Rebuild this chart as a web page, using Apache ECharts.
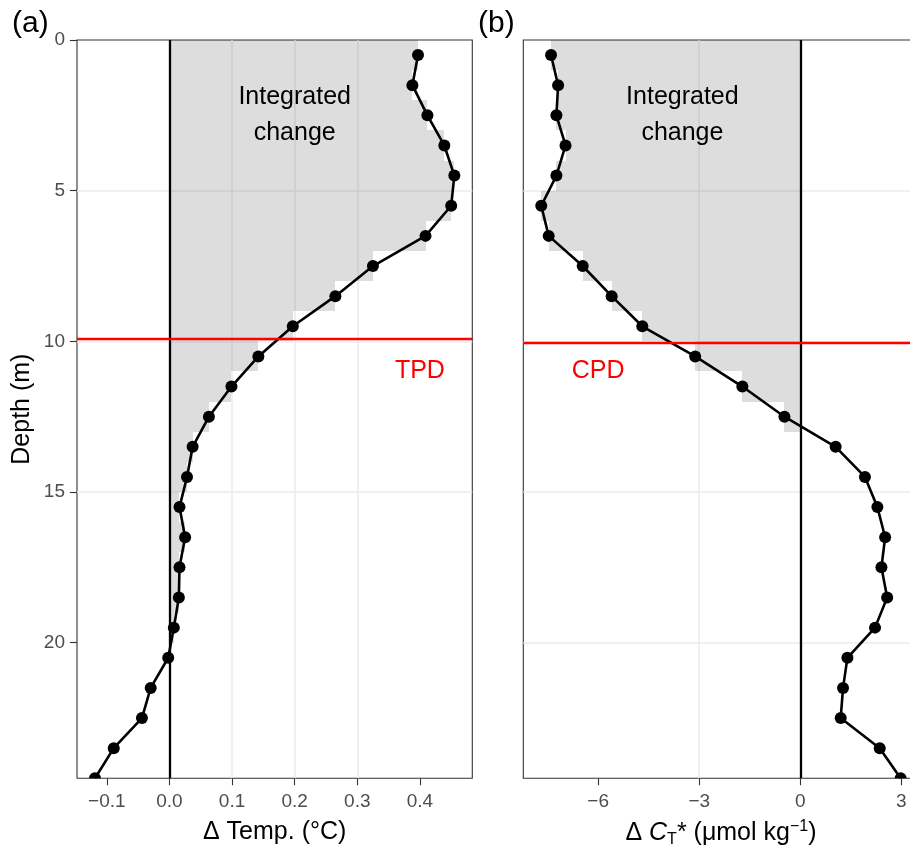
<!DOCTYPE html>
<html><head><meta charset="utf-8">
<script src="https://cdn.jsdelivr.net/npm/echarts@6/dist/echarts.min.js"></script>
<style>html,body{margin:0;padding:0;background:#fff}#c{width:910px;height:848px}</style>
</head><body><div id="c"></div>
<script>
// ---- data ----
const depths = [0.5,1.5,2.5,3.5,4.5,5.5,6.5,7.5,8.5,9.5,10.5,11.5,12.5,13.5,14.5,15.5,16.5,17.5,18.5,19.5,20.5,21.5,22.5,23.5,24.5];
const dTemp  = [0.397,0.388,0.412,0.439,0.455,0.450,0.409,0.325,0.265,0.197,0.142,0.099,0.063,0.037,0.028,0.016,0.025,0.016,0.015,0.007,-0.002,-0.030,-0.044,-0.089,-0.119];
const dCT    = [-7.40,-7.19,-7.24,-6.97,-7.24,-7.69,-7.47,-6.46,-5.60,-4.69,-3.12,-1.72,-0.47,1.05,1.92,2.29,2.52,2.41,2.58,2.22,1.40,1.27,1.20,2.36,2.98];
const tpdDepth = 9.92;
const cpdDepth = 10.05;
const depthTicks = [0,5,10,15,20];
const tempTicks = [-0.1,0.0,0.1,0.2,0.3,0.4];
const ctTicks = [-6,-3,0,3];

const FONT = '"Liberation Sans", Arial, Helvetica, sans-serif';
const chart = echarts.init(document.getElementById('c'), null, {renderer:'canvas'});

function ext(vals){ const mn=Math.min(...vals), mx=Math.max(...vals), s=mx-mn; return [mn-0.05*s, mx+0.05*s]; }
const tExt = ext(dTemp), cExt = ext(dCT);
const minus = s => String(s).replace('-', '\u2212');

function barSeries(idx, vals, keep){
  return {
    type:'custom', xAxisIndex:idx, yAxisIndex:idx, clip:true, z:1, silent:true,
    data: depths.map((d,i)=>[vals[i], d]).filter(p=>keep(p[0])),
    renderItem:(params, api)=>{
      const v=api.value(0), d=api.value(1);
      const a=api.coord([0, d-0.5]), b=api.coord([v, d+0.5]);
      const x0=Math.round(Math.min(a[0],b[0])), x1=Math.round(Math.max(a[0],b[0]));
      const y0=Math.round(Math.min(a[1],b[1])), y1=Math.round(Math.max(a[1],b[1]));
      return {type:'rect', shape:{x:x0,y:y0,width:x1-x0,height:y1-y0}, style:{fill:'rgba(0,0,0,0.135)'}};
    }
  };
}
function lineSeries(idx, vals, refDepth){
  return {
    type:'line', xAxisIndex:idx, yAxisIndex:idx, z:3, silent:true, showSymbol:false, clip:true,
    data: depths.map((d,i)=>[vals[i], d]),
    lineStyle:{color:'#000', width:2.6},
    markLine:{
      silent:true, symbol:['none','none'], label:{show:false}, animation:false,
      data:[
        {xAxis:0, lineStyle:{color:'#000', width:2.3, type:'solid'}},
        {yAxis:refDepth, lineStyle:{color:'#FF0000', width:2.4, type:'solid'}}
      ]
    }
  };
}
function pointSeries(idx, vals){
  return {
    type:'custom', xAxisIndex:idx, yAxisIndex:idx, clip:true, z:4, silent:true,
    data: depths.map((d,i)=>[vals[i], d]),
    renderItem:(params, api)=>{
      const p=api.coord([api.value(0), api.value(1)]);
      return {type:'circle', shape:{cx:p[0], cy:p[1], r:6}, style:{fill:'#000'}};
    }
  };
}
function annSeries(idx, anns){
  return {
    type:'custom', xAxisIndex:idx, yAxisIndex:idx, clip:false, z:5, silent:true,
    data: anns.map(a=>[a.x, a.y]),
    renderItem:(params, api)=>{
      const a=anns[params.dataIndex];
      const p=api.coord([api.value(0), api.value(1)]);
      return {type:'text', x:p[0], y:p[1], style:{text:a.text, fill:a.color, fontSize:25, fontFamily:FONT,
        align:'center', verticalAlign:'middle', textAlign:'center', textVerticalAlign:'middle', lineHeight:36}};
    }
  };
}

const tickStyle = {show:true, length:7, lineStyle:{color:'#333', width:1.1}};
const labelStyle = {color:'#4D4D4D', fontSize:19, fontFamily:FONT, margin:12};
const xLabelStyle = Object.assign({}, labelStyle, {margin:14});
const splitStyle = {show:true, showMinLine:false, showMaxLine:false, lineStyle:{color:'#EBEBEB', width:1.5}};

const option = {
  animation:false,
  backgroundColor:'#fff',
  graphic:[
    {type:'text', left:12, top:9, style:{text:'(a)', fontSize:30, fontFamily:FONT, fill:'#000'}},
    {type:'text', left:478, top:9, style:{text:'(b)', fontSize:30, fontFamily:FONT, fill:'#000'}}
  ],
  grid:[
    {left:77, top:40, width:395.3, height:738.3, show:true, borderColor:'#333', borderWidth:1.1, backgroundColor:'transparent', outerBoundsMode:'none', containLabel:false},
    {left:523.3, top:40, width:395.3, height:738.3, show:true, borderColor:'#333', borderWidth:1.1, backgroundColor:'transparent', outerBoundsMode:'none', containLabel:false}
  ],
  xAxis:[
    {gridIndex:0, type:'value', position:'bottom', min:tExt[0], max:tExt[1], splitNumber:6, minInterval:0.1, maxInterval:0.1,
     axisLine:{show:false, onZero:false},
     axisTick:Object.assign({customValues:tempTicks}, tickStyle),
     axisLabel:Object.assign({customValues:tempTicks, formatter:v=>minus(v.toFixed(1))}, xLabelStyle),
     splitLine:splitStyle,
     name:'Δ Temp. (°C)', nameLocation:'middle', nameGap:41,
     nameTextStyle:{fontSize:25, fontFamily:FONT, color:'#000'}},
    {gridIndex:1, type:'value', position:'bottom', min:cExt[0], max:cExt[1], splitNumber:4, minInterval:3, maxInterval:3,
     axisLine:{show:false, onZero:false},
     axisTick:Object.assign({customValues:ctTicks}, tickStyle),
     axisLabel:Object.assign({customValues:ctTicks, formatter:v=>minus(v)}, xLabelStyle),
     splitLine:splitStyle,
     name:'{n|Δ }{i|C}{s|T}{n|* (μmol kg}{p|−1}{n|)}', nameLocation:'middle', nameGap:40,
     nameTextStyle:{fontSize:25, fontFamily:FONT, color:'#000',
       rich:{
         n:{fontSize:25, fontFamily:FONT, color:'#000'},
         i:{fontSize:25, fontFamily:FONT, color:'#000', fontStyle:'italic'},
         s:{fontSize:16, fontFamily:FONT, color:'#000', padding:[13,0,0,0]},
         p:{fontSize:16, fontFamily:FONT, color:'#000', padding:[0,0,14,0]}
       }}}
  ],
  yAxis:[
    {gridIndex:0, type:'value', inverse:true, min:0, max:24.5, interval:5,
     axisLine:{show:false, onZero:false},
     axisTick:Object.assign({customValues:depthTicks}, tickStyle),
     axisLabel:Object.assign({customValues:depthTicks}, labelStyle),
     splitLine:splitStyle,
     name:'Depth (m)', nameLocation:'middle', nameGap:42,
     nameTextStyle:{fontSize:25, fontFamily:FONT, color:'#000'}},
    {gridIndex:1, type:'value', inverse:true, min:0, max:24.5, interval:5,
     axisLine:{show:false, onZero:false},
     axisTick:{show:false}, axisLabel:{show:false},
     splitLine:splitStyle}
  ],
  series:[
    barSeries(0, dTemp, v=>v>0),
    lineSeries(0, dTemp, tpdDepth),
    pointSeries(0, dTemp),
    annSeries(0, [{x:0.2, y:2.5, text:'Integrated\nchange', color:'#000'}, {x:0.4, y:11, text:'TPD', color:'#FF0000'}]),
    barSeries(1, dCT, v=>v<0),
    lineSeries(1, dCT, cpdDepth),
    pointSeries(1, dCT),
    annSeries(1, [{x:-3.5, y:2.5, text:'Integrated\nchange', color:'#000'}, {x:-6, y:11, text:'CPD', color:'#FF0000'}])
  ]
};
chart.setOption(option);
</script></body></html>
